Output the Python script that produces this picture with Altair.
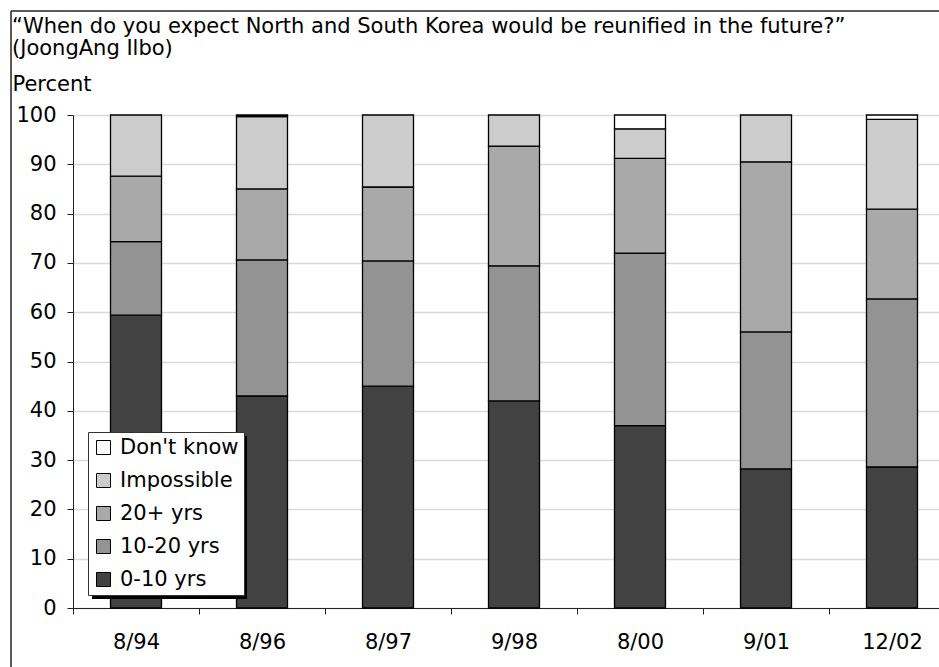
import altair as alt
import pandas as pd

# Survey dates (x axis)
dates = ["8/94", "8/96", "8/97", "9/98", "8/00", "9/01", "12/02"]

# Share of respondents per answer, percent (stacked bottom to top)
yrs_0_10 = [59.4, 43.0, 45.0, 42.0, 37.0, 28.2, 28.6]
yrs_10_20 = [14.9, 27.6, 25.4, 27.4, 35.0, 27.8, 34.1]
yrs_20_plus = [13.3, 14.4, 15.0, 24.3, 19.2, 34.5, 18.2]
impossible = [12.4, 14.7, 14.6, 6.3, 6.0, 9.5, 18.2]
dont_know = [0.0, 0.3, 0.0, 0.0, 2.8, 0.0, 0.9]

answers = ["0-10 yrs", "10-20 yrs", "20+ yrs", "Impossible", "Don't know"]
answer_colors = ["#424242", "#939393", "#a9a9a9", "#cccccc", "#ffffff"]

title_lines = [
    "\u201cWhen do you expect North and South Korea would be reunified in the future?\u201d",
    "(JoongAng Ilbo)",
]
y_title = "Percent"

FONT = "DejaVu Sans"
FS = 21

rows = []
for k, (name, vals) in enumerate(zip(answers, [yrs_0_10, yrs_10_20, yrs_20_plus, impossible, dont_know])):
    for d, v in zip(dates, vals):
        if v > 0:
            rows.append({"date": d, "answer": name, "value": v, "stack_idx": k})
df = pd.DataFrame(rows)

legend_order = list(reversed(answers))
legend_colors = list(reversed(answer_colors))

bars = alt.Chart(df).mark_bar(size=51, stroke="black", strokeWidth=1.3).encode(
    x=alt.X(
        "date:N",
        sort=dates,
        title=None,
        scale=alt.Scale(range=[0, 882], paddingInner=0, paddingOuter=0),
        axis=alt.Axis(
            labelAngle=0,
            tickBand="extent",
            tickSize=6,
            tickColor="#222222",
            domainColor="#222222",
            labelPadding=28,
            labelBaseline="middle",
            labelFont=FONT,
            labelFontSize=FS,
            labelColor="black",
            grid=False,
        ),
    ),
    y=alt.Y(
        "value:Q",
        stack="zero",
        scale=alt.Scale(domain=[0, 100], nice=False),
        axis=alt.Axis(
            values=list(range(0, 101, 10)),
            title=y_title,
            titleAngle=0,
            titleAlign="left",
            titleBaseline="middle",
            titleX=-61,
            titleY=-31,
            titleFont=FONT,
            titleFontSize=FS,
            titleFontWeight="normal",
            titleColor="black",
            tickSize=6,
            tickColor="#222222",
            domainColor="#222222",
            labelPadding=11,
            labelFont=FONT,
            labelFontSize=FS,
            labelColor="black",
            grid=True,
            gridColor="#d9d9d9",
            gridWidth=1.3,
        ),
    ),
    color=alt.Color(
        "answer:N",
        sort=legend_order,
        scale=alt.Scale(domain=legend_order, range=legend_colors),
        legend=alt.Legend(
            title=None,
            orient="none",
            legendX=15,
            legendY=317,
            fillColor="white",
            strokeColor="#333333",
            padding=5,
            symbolType="square",
            symbolSize=196,
            symbolStrokeColor="black",
            symbolStrokeWidth=1,
            labelFont=FONT,
            labelFontSize=FS,
            labelColor="black",
            labelOffset=6,
            rowPadding=11,
        ),
    ),
    order=alt.Order("stack_idx:Q", sort="ascending"),
)

one = pd.DataFrame({"k": [0]})

# Drop shadow behind the legend box
shadow = alt.Chart(one).mark_rect(color="black").encode(
    x=alt.value(19), x2=alt.value(174), y=alt.value(321), y2=alt.value(484)
)

# Outer frame lines (left and top)
frame_left = alt.Chart(one).mark_rule(color="#222222", strokeWidth=1.5).encode(
    x=alt.value(-62), y=alt.value(-104), y2=alt.value(560)
)
frame_top = alt.Chart(one).mark_rule(color="#222222", strokeWidth=1.5).encode(
    y=alt.value(-104), x=alt.value(-62), x2=alt.value(880)
)

title_layers = []
for i, line in enumerate(title_lines):
    title_layers.append(
        alt.Chart(one).mark_text(
            text=line, align="left", baseline="middle", font=FONT, fontSize=FS, color="black"
        ).encode(x=alt.value(-61), y=alt.value(-88 + 22 * i))
    )

chart = alt.layer(bars, shadow, frame_left, frame_top, *title_layers).properties(
    width=866,
    height=493,
    autosize=alt.AutoSizeParams(type="none"),
    padding={"left": 73, "top": 115, "right": 0, "bottom": 59},
).configure_view(stroke=None).configure(background="white")

chart.save("out.html", embed_options={"renderer": "svg", "actions": False})
